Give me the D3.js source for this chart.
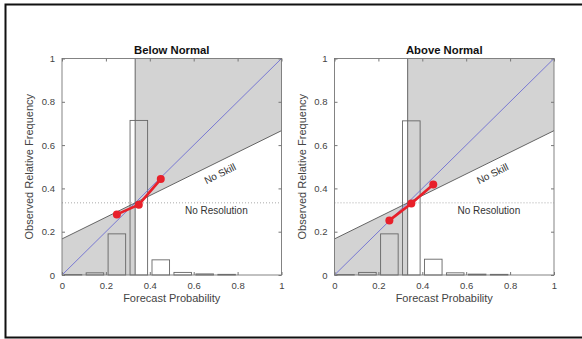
<!DOCTYPE html>
<html>
<head>
<meta charset="utf-8">
<script src="https://cdn.jsdelivr.net/npm/d3@7"></script>
<style>
  body { margin: 0; background: #fff; }
  text { font-family: "Liberation Sans", Arial, sans-serif; }
</style>
</head>
<body>
<div id="chart"></div>
<script>
// bin centres of the forecast probability histogram
const binCenters = [0.05, 0.15, 0.25, 0.35, 0.45, 0.55, 0.65, 0.75, 0.85, 0.95];
const ticks = [0, 0.2, 0.4, 0.6, 0.8, 1];
const tickLabels = ["0", "0.2", "0.4", "0.6", "0.8", "1"];
const clim = 1 / 3;

const titles = ["Below Normal", "Above Normal"];
const histBelow = [0.002, 0.01, 0.19, 0.714, 0.07, 0.012, 0.005, 0.003, 0, 0];
const histAbove = [0.002, 0.012, 0.19, 0.712, 0.073, 0.01, 0.004, 0.003, 0, 0];
const relX = [0.25, 0.35, 0.45];
const relBelow = [0.28, 0.325, 0.443];
const relAbove = [0.252, 0.33, 0.418];

const W = 582, H = 339;
const svg = d3.select("#chart").append("svg")
  .attr("width", W)
  .attr("height", H);

// outer frame
svg.append("rect")
  .attr("x", 5.5).attr("y", 4.5)
  .attr("width", 600).attr("height", 333)
  .attr("fill", "none")
  .attr("stroke", "#111")
  .attr("stroke-width", 2);

function drawPanel(left, title, hist, rel) {
  const x = d3.scaleLinear().domain([0, 1]).range([left, left + 219.5]);
  const y = d3.scaleLinear().domain([0, 1]).range([275, 58.5]);
  const g = svg.append("g");

  // skill area
  const ns = v => (v + clim) / 2;
  const area = [[0, 0], [0, ns(0)], [clim, ns(clim)], [clim, 1], [1, 1], [1, ns(1)], [clim, ns(clim)], [clim, 0]];
  g.append("path")
    .attr("d", d3.line().x(d => x(d[0])).y(d => y(d[1]))(area) + "Z")
    .attr("fill", "#d3d3d3")
    .attr("stroke", "none");

  // vertical climatology line
  g.append("line")
    .attr("x1", x(clim)).attr("x2", x(clim))
    .attr("y1", y(0)).attr("y2", y(1))
    .attr("stroke", "#555").attr("stroke-width", 0.9);

  // histogram bars
  g.selectAll(".bar").data(binCenters.map((c, i) => ({ c, v: hist[i] })))
    .enter().append("rect")
    .attr("x", d => x(d.c - 0.04))
    .attr("y", d => y(d.v))
    .attr("width", d => x(d.c + 0.04) - x(d.c - 0.04))
    .attr("height", d => y(0) - y(d.v))
    .attr("fill", "none")
    .attr("stroke", "#666")
    .attr("stroke-width", 0.9);

  // no resolution
  g.append("line")
    .attr("x1", x(0)).attr("x2", x(1))
    .attr("y1", y(clim)).attr("y2", y(clim))
    .attr("stroke", "#aaa").attr("stroke-width", 1)
    .attr("stroke-dasharray", "1,2");

  // perfect reliability
  g.append("line")
    .attr("x1", x(0)).attr("y1", y(0))
    .attr("x2", x(1)).attr("y2", y(1))
    .attr("stroke", "#6e6ed2").attr("stroke-width", 0.9);

  // no skill
  g.append("line")
    .attr("x1", x(0)).attr("y1", y(ns(0)))
    .attr("x2", x(1)).attr("y2", y(ns(1)))
    .attr("stroke", "#555").attr("stroke-width", 0.9);

  const ang = Math.atan2(y(ns(1)) - y(ns(0)), x(1) - x(0)) * 180 / Math.PI;
  g.append("text")
    .attr("transform", `translate(${x(0.72)},${y(0.468)}) rotate(${ang})`)
    .attr("text-anchor", "middle")
    .attr("dy", "0.35em")
    .attr("font-size", 10)
    .attr("fill", "#333")
    .text("No Skill");

  g.append("text")
    .attr("x", x(0.56)).attr("y", y(0.28))
    .attr("font-size", 10)
    .attr("fill", "#333")
    .text("No Resolution");

  // reliability curve
  const pts = relX.map((v, i) => [v, rel[i]]);
  g.append("path")
    .attr("d", d3.line().x(d => x(d[0])).y(d => y(d[1]))(pts))
    .attr("fill", "none")
    .attr("stroke", "#e8202a")
    .attr("stroke-width", 2.7);
  g.selectAll(".pt").data(pts).enter().append("circle")
    .attr("cx", d => x(d[0])).attr("cy", d => y(d[1]))
    .attr("r", 4)
    .attr("fill", "#e8202a");

  // axes box
  g.append("rect")
    .attr("x", x(0)).attr("y", y(1))
    .attr("width", x(1) - x(0)).attr("height", y(0) - y(1))
    .attr("fill", "none").attr("stroke", "#777").attr("stroke-width", 0.9);

  const bottom = g.append("g").attr("transform", `translate(0,${y(0)})`)
    .call(d3.axisBottom(x).tickValues(ticks).tickFormat((d, i) => tickLabels[i]).tickSizeInner(-3).tickSizeOuter(0).tickPadding(7));
  const leftAx = g.append("g").attr("transform", `translate(${x(0)},0)`)
    .call(d3.axisLeft(y).tickValues(ticks).tickFormat((d, i) => tickLabels[i]).tickSizeInner(-3).tickSizeOuter(0).tickPadding(7));
  const top = g.append("g").attr("transform", `translate(0,${y(1)})`)
    .call(d3.axisTop(x).tickValues(ticks).tickFormat("").tickSizeInner(-3).tickSizeOuter(0));
  const right = g.append("g").attr("transform", `translate(${x(1)},0)`)
    .call(d3.axisRight(y).tickValues(ticks).tickFormat("").tickSizeInner(-3).tickSizeOuter(0));
  [bottom, leftAx, top, right].forEach(a => {
    a.select(".domain").remove();
    a.selectAll("line").attr("stroke", "#777");
    a.selectAll("text").attr("font-size", 9.5).attr("fill", "#444")
      .attr("font-family", "Liberation Sans, Arial, sans-serif");
  });

  g.append("text")
    .attr("x", (x(0) + x(1)) / 2).attr("y", 54)
    .attr("text-anchor", "middle")
    .attr("font-size", 11.3).attr("font-weight", "bold")
    .attr("fill", "#111")
    .text(title);

  g.append("text")
    .attr("x", (x(0) + x(1)) / 2).attr("y", 302)
    .attr("text-anchor", "middle")
    .attr("font-size", 11).attr("fill", "#444")
    .text("Forecast Probability");

  g.append("text")
    .attr("transform", `translate(${x(0) - 29},${(y(0) + y(1)) / 2}) rotate(-90)`)
    .attr("text-anchor", "middle")
    .attr("font-size", 11).attr("fill", "#444")
    .text("Observed Relative Frequency");
}

drawPanel(62, titles[0], histBelow, relBelow);
drawPanel(334.5, titles[1], histAbove, relAbove);
</script>
</body>
</html>
